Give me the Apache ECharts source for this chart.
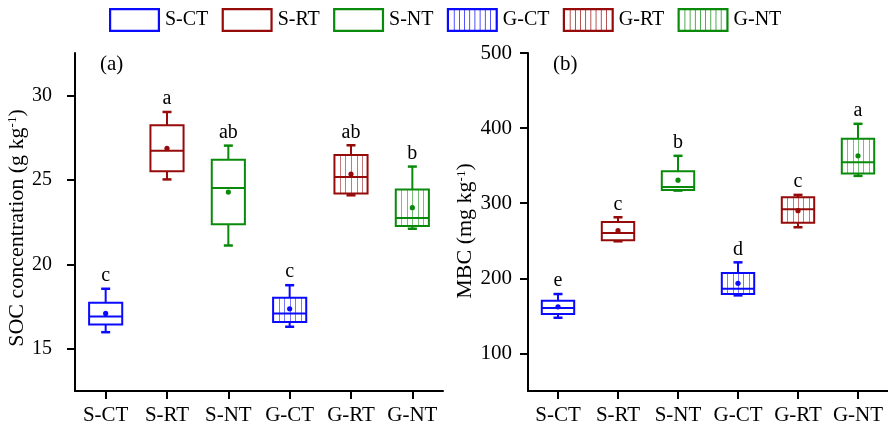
<!DOCTYPE html>
<html><head><meta charset="utf-8">
<script src="https://cdn.jsdelivr.net/npm/echarts@6/dist/echarts.min.js"></script>
<style>html,body{margin:0;padding:0;background:#fff}#c{width:888px;height:429px}</style>
</head><body><div id="c"></div>
<script>
// ---- data ----
const categories = ['S-CT', 'S-RT', 'S-NT', 'G-CT', 'G-RT', 'G-NT'];
// [min, q1, median, q3, max]
const socBox = [
  [15.98, 16.43, 16.91, 17.72, 18.55],
  [25.02, 25.50, 26.72, 28.22, 29.01],
  [21.11, 22.36, 24.51, 26.19, 27.02],
  [16.30, 16.59, 17.09, 18.02, 18.76],
  [24.08, 24.19, 25.16, 26.46, 27.04],
  [22.10, 22.26, 22.73, 24.43, 25.78]
];
const socMean = [17.09, 26.86, 24.27, 17.36, 25.34, 23.35];
const socLetters = ['c', 'a', 'ab', 'c', 'ab', 'b'];
const mbcBox = [
  [147.5, 152.4, 160.4, 170.1, 179.1],
  [249.3, 250.7, 260.4, 275.1, 281.3],
  [316.8, 317.7, 321.7, 342.7, 363.1],
  [177.3, 179.1, 186.1, 207.1, 221.3],
  [268.0, 274.1, 292.0, 308.0, 311.1],
  [336.4, 339.5, 354.7, 385.7, 405.7]
];
const mbcMean = [162.1, 263.5, 330.7, 193.3, 290.1, 363.1];
const mbcLetters = ['e', 'c', 'b', 'd', 'c', 'a'];
const socTicks = [15, 20, 25, 30];
const mbcTicks = [100, 200, 300, 400, 500];

// ---- styles ----
const colors = ['#0a0aff', '#960a0a', '#0a8a0a', '#0a0aff', '#960a0a', '#0a8a0a'];
const hatched = [false, false, false, true, true, true];
const FONT = 'Liberation Serif';

function makeRender(letters) {
  return function (params, api) {
    const i = api.value(0);
    const cx = api.coord([i, 0])[0];
    const bw = api.size([1, 0])[0] * 0.54;
    const y = k => api.coord([i, api.value(k)])[1];
    const yMin = y(1), yQ1 = y(2), yMed = y(3), yQ3 = y(4), yMax = y(5), yMean = y(6);
    const left = cx - bw / 2;
    const c = colors[i];
    const ch = [];
    if (hatched[i]) {
      const n = 6, step = bw / n;
      for (let k = 1; k < n; k++) {
        const x = Math.round(left + k * step) + 0.5;
        ch.push({type: 'line', shape: {x1: x, y1: yQ3, x2: x, y2: yQ1},
          style: {stroke: c, lineWidth: 1, opacity: 0.55}});
      }
    }
    ch.push({type: 'rect', shape: {x: left, y: yQ3, width: bw, height: yQ1 - yQ3},
      style: {fill: 'none', stroke: c, lineWidth: 2}});
    ch.push({type: 'line', shape: {x1: left, y1: yMed, x2: left + bw, y2: yMed},
      style: {stroke: c, lineWidth: 2}});
    ch.push({type: 'line', shape: {x1: cx, y1: yQ3, x2: cx, y2: yMax}, style: {stroke: c, lineWidth: 2}});
    ch.push({type: 'line', shape: {x1: cx - 4.5, y1: yMax, x2: cx + 4.5, y2: yMax}, style: {stroke: c, lineWidth: 2.5}});
    ch.push({type: 'line', shape: {x1: cx, y1: yQ1, x2: cx, y2: yMin}, style: {stroke: c, lineWidth: 2}});
    ch.push({type: 'line', shape: {x1: cx - 4.5, y1: yMin, x2: cx + 4.5, y2: yMin}, style: {stroke: c, lineWidth: 2.5}});
    ch.push({type: 'circle', shape: {cx: cx, cy: yMean, r: 2.6}, style: {fill: c}});
    ch.push({type: 'text', x: cx, y: yMax - 3,
      style: {text: letters[i], fill: '#000', font: '20px "' + FONT + '"', align: 'center', verticalAlign: 'bottom'}});
    return {type: 'group', children: ch};
  };
}

function framePath(withBars) {
  let p = 'path://M0,0H51V24H0Z M2.2,2.2V21.8H48.8V2.2Z';
  if (withBars) {
    const n = 9, step = 46.6 / n;
    for (let k = 1; k < n; k++) {
      const x = 2.2 + k * step;
      p += ' M' + (x - 0.35).toFixed(2) + ',2.2H' + (x + 0.35).toFixed(2) + 'V21.8H' + (x - 0.35).toFixed(2) + 'Z';
    }
  }
  return p;
}

const series = [];
[[socBox, socMean, socLetters], [mbcBox, mbcMean, mbcLetters]].forEach((d, p) => {
  categories.forEach((name, i) => {
    series.push({
      type: 'custom', name: name, xAxisIndex: p, yAxisIndex: p, clip: false,
      itemStyle: {color: colors[i]},
      renderItem: makeRender(d[2]),
      encode: {x: 0, y: [1, 2, 3, 4, 5, 6]},
      data: [[i].concat(d[0][i], [d[1][i]])]
    });
  });
});

const axisLineStyle = {show: true, lineStyle: {color: '#000', width: 2}};
const tickStyle = {show: true, length: 8, lineStyle: {color: '#000', width: 2}};
function xAxis(idx) {
  return {type: 'category', gridIndex: idx, data: categories, boundaryGap: true,
    axisLine: axisLineStyle, axisTick: Object.assign({alignWithLabel: true}, tickStyle),
    axisLabel: {color: '#000', fontSize: 21, fontFamily: FONT, margin: 14, interval: 0},
    splitLine: {show: false}};
}

const option = {
  animation: false,
  backgroundColor: '#fff',
  textStyle: {fontFamily: FONT},
  legend: {
    left: 104, top: 3, itemWidth: 51, itemHeight: 24, itemGap: 13.3,
    textStyle: {fontSize: 20, color: '#000', fontFamily: FONT},
    itemStyle: {borderWidth: 0},
    data: categories.map((n, i) => ({name: n, icon: framePath(hatched[i]), itemStyle: {color: colors[i], borderWidth: 0}}))
  },
  grid: [
    {left: 75, top: 53, width: 368, height: 338},
    {left: 528, top: 53, width: 369, height: 338}
  ],
  xAxis: [xAxis(0), xAxis(1)],
  yAxis: [
    {type: 'value', gridIndex: 0, min: 12.5, max: 32.5,
      axisLine: axisLineStyle,
      axisTick: Object.assign({customValues: socTicks}, tickStyle),
      axisLabel: {customValues: socTicks, color: '#000', fontSize: 20, fontFamily: FONT, margin: 23},
      splitLine: {show: false},
      name: '{t|SOC concentration (g kg}{s|-1}{t|)}', nameLocation: 'middle', nameGap: 40,
      nameTextStyle: {padding: [0, 12, 0, 0], rich: {t: {fontSize: 22, fontFamily: FONT, color: '#000'}, s: {fontSize: 13, fontFamily: FONT, color: '#000', verticalAlign: 'top'}}}
    },
    {type: 'value', gridIndex: 1, min: 50, max: 500,
      axisLine: axisLineStyle,
      axisTick: Object.assign({customValues: mbcTicks}, tickStyle),
      axisLabel: {customValues: mbcTicks, color: '#000', fontSize: 21, fontFamily: FONT, margin: 16},
      splitLine: {show: false},
      name: '{t|MBC (mg kg}{s|-1}{t|)}', nameLocation: 'middle', nameGap: 51,
      nameTextStyle: {padding: [0, 18, 0, 0], rich: {t: {fontSize: 22, fontFamily: FONT, color: '#000'}, s: {fontSize: 13, fontFamily: FONT, color: '#000', verticalAlign: 'top'}}}
    }
  ],
  graphic: [
    {type: 'text', left: 100, top: 54, style: {text: '(a)', font: '21px "' + FONT + '"', fill: '#000'}},
    {type: 'text', left: 553, top: 54, style: {text: '(b)', font: '21px "' + FONT + '"', fill: '#000'}}
  ],
  series: series
};
const chart = echarts.init(document.getElementById('c'), null, {renderer: 'canvas'});
chart.setOption(option);
</script>
</body></html>
